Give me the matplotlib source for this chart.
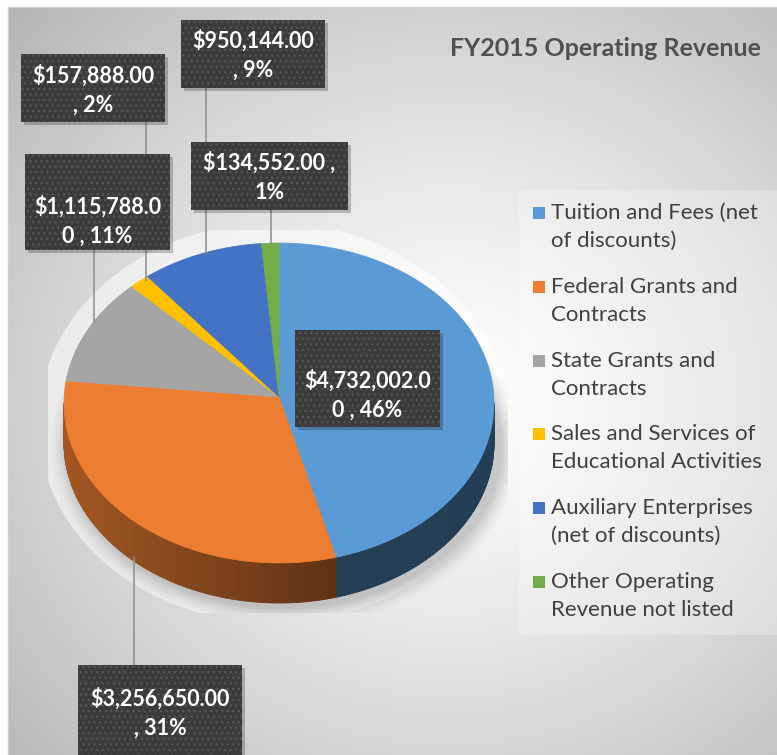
import numpy as np
import matplotlib
matplotlib.use("Agg")
import matplotlib.pyplot as plt
from matplotlib.patches import Polygon, Rectangle, Ellipse

# ---------------- data ----------------
categories = ["Tuition and Fees (net of discounts)",
              "Federal Grants and Contracts",
              "State Grants and Contracts",
              "Sales and Services of Educational Activities",
              "Auxiliary Enterprises (net of discounts)",
              "Other Operating Revenue not listed"]
legend_labels = ["Tuition and Fees (net\nof discounts)",
                 "Federal Grants and\nContracts",
                 "State Grants and\nContracts",
                 "Sales and Services of\nEducational Activities",
                 "Auxiliary Enterprises\n(net of discounts)",
                 "Other Operating\nRevenue not listed"]
values = [4732002, 3256650, 1115788, 157888, 950144, 134552]
colors = ["#5B9BD5", "#ED7D31", "#A5A5A5", "#FFC000", "#4472C4", "#70AD47"]
title = "FY2015 Operating Revenue"

# ---------------- layout ----------------
W, H = 777, 755
fig = plt.figure(figsize=(W / 100, H / 100), dpi=100)
ax = fig.add_axes([0, 0, 1, 1])
ax.set_xlim(0, W)
ax.set_ylim(H, 0)
ax.axis("off")

# background gradient (chart area)
x0a, y0a = 8, 7
xs = np.linspace(x0a, W, 400)
ys = np.linspace(y0a, H, 400)
X, Y = np.meshgrid(xs, ys)
d = np.sqrt(((X - 450) / 540) ** 2 + ((Y - 400) / 500) ** 2)
v = 1.0 - 0.25 * np.clip(d, 0, 1.2) ** 1.25
img = np.dstack([v, v, v])
ax.imshow(img, extent=[x0a, W, H, y0a], aspect="auto", zorder=0, interpolation="bilinear")
ax.plot([x0a, W], [y0a, y0a], color="#cfcfcf", lw=1, zorder=0.5)
ax.plot([x0a, x0a], [y0a, H], color="#cfcfcf", lw=1, zorder=0.5)

# legend faint panel
ax.add_patch(Rectangle((519, 190), 258, 445, facecolor="white", alpha=0.25, edgecolor="none", zorder=1))

# ---------------- 3D pie ----------------
cx, cy, a, b, depth = 279, 403, 215, 160, 40
total = float(sum(values))
fracs = np.array(values) / total
cum = np.concatenate([[0], np.cumsum(fracs)])

def ell(t, dy=0):
    t = np.radians(t)
    return cx + a * np.cos(t), cy - b * np.sin(t) + dy

# plot-area clip for glow / shadow
clip = Rectangle((48, 230), 460, 383, transform=ax.transData)
glow = Ellipse((cx - 6, cy + depth / 2), 2 * a + 40, 2 * b + depth + 40,
               facecolor="white", alpha=0.55, edgecolor="none", zorder=1.5)
ax.add_patch(glow)
glow.set_clip_path(clip)
for k, al in enumerate(np.linspace(0.06, 0.015, 8)):
    e = Ellipse((cx + 6, cy + depth + 4), 2 * a + 4 + 5 * k, 2 * b + 4 + 5 * k,
                facecolor="#444444", alpha=al, edgecolor="none", zorder=2)
    ax.add_patch(e)
    e.set_clip_path(clip)

def shade(col, x):
    c = np.array(matplotlib.colors.to_rgb(col))
    f = 0.69 - 0.29 * np.clip((x - 66) / 272, 0, 1)
    return tuple(c * f)

for i in range(len(values)):
    t1 = 90 - 360 * cum[i + 1]
    t2 = 90 - 360 * cum[i]
    lo, hi = max(t1, -180), min(t2, 0)
    if hi > lo:
        steps = np.linspace(lo, hi, int((hi - lo) * 2) + 2)
        for s0, s1 in zip(steps[:-1], steps[1:]):
            xa, ya = ell(s0)
            xb, yb = ell(s1)
            poly = [(xa, ya), (xb, yb), (xb, yb + depth), (xa, ya + depth)]
            col = shade(colors[i], (xa + xb) / 2)
            ax.add_patch(Polygon(poly, closed=True, facecolor=col, edgecolor=col, lw=0.6, zorder=3))

for i in range(len(values)):
    t1 = 90 - 360 * cum[i + 1]
    t2 = 90 - 360 * cum[i]
    ts = np.linspace(t1, t2, 200)
    px, py = ell(ts)
    pts = np.column_stack([np.r_[cx, px], np.r_[cy - 6, py]])
    ax.add_patch(Polygon(pts, closed=True, facecolor=colors[i], edgecolor=colors[i], lw=0.5, zorder=4))

# ---------------- data labels ----------------
pcts = [int(round(f * 100)) for f in fracs]
texts = [f"${v_:,.2f} , {p}%" for v_, p in zip(values, pcts)]
# box: (x0, y0, x1, y1), wrap width, text centre y, leader line (x, y_top, y_bottom)
boxes = [(295, 330, 440, 427), (78, 665, 242, 762), (25, 154, 170, 250),
         (21, 54, 165, 122), (181, 20, 325, 88), (191, 142, 348, 210)]
wraps = [12, 13, 12, 11, 11, 13]
text_y = [395, 713, 221, 90, 55, 177]
leaders = [None, (134, 557, 665), (94, 250, 323), (146, 122, 280), (206, 88, 253), (271, 210, 244)]

for i in range(len(values)):
    x0, y0, x1, y1 = boxes[i]
    s = texts[i]
    n = wraps[i]
    txt = s[:n].rstrip() + "\n" + s[n:].strip()
    if leaders[i] is not None:
        lx, la, lb = leaders[i]
        ax.plot([lx, lx], [la, lb], color="#8c8c8c", lw=1.1, zorder=5)
    ax.add_patch(Rectangle((x0 + 3, y0 + 3), x1 - x0, y1 - y0, facecolor="#000000", alpha=0.22,
                           edgecolor="none", zorder=6))
    ax.add_patch(Rectangle((x0, y0), x1 - x0, y1 - y0, facecolor="#3b3b3b", edgecolor="none", zorder=7))
    ax.add_patch(Rectangle((x0, y0), x1 - x0, y1 - y0, facecolor="none", edgecolor="#555555",
                           hatch="...", lw=0, zorder=7.5))
    ax.text((x0 + x1) / 2, text_y[i], txt, ha="center", va="center",
            color="white", fontsize=15.5, fontweight="bold", family="Lato", linespacing=1.5, zorder=8)

# ---------------- legend ----------------
ly0, lstep = 213, 73.8
for i, lab in enumerate(legend_labels):
    y = ly0 + i * lstep
    ax.add_patch(Rectangle((533, y - 6), 12, 12, facecolor=colors[i], edgecolor="none", zorder=9))
    ax.text(551, y, lab.split("\n")[0], ha="left", va="center", fontsize=16, color="#404040",
            family="Lato", zorder=9)
    ax.text(551, y + 28, lab.split("\n")[1], ha="left", va="center", fontsize=16, color="#404040",
            family="Lato", zorder=9)

# ---------------- title ----------------
ax.text(450, 49, title, ha="left", va="center", fontsize=18, fontweight="bold",
        color="#505050", family="Lato", zorder=9)

fig.savefig("out.png", dpi=100)
